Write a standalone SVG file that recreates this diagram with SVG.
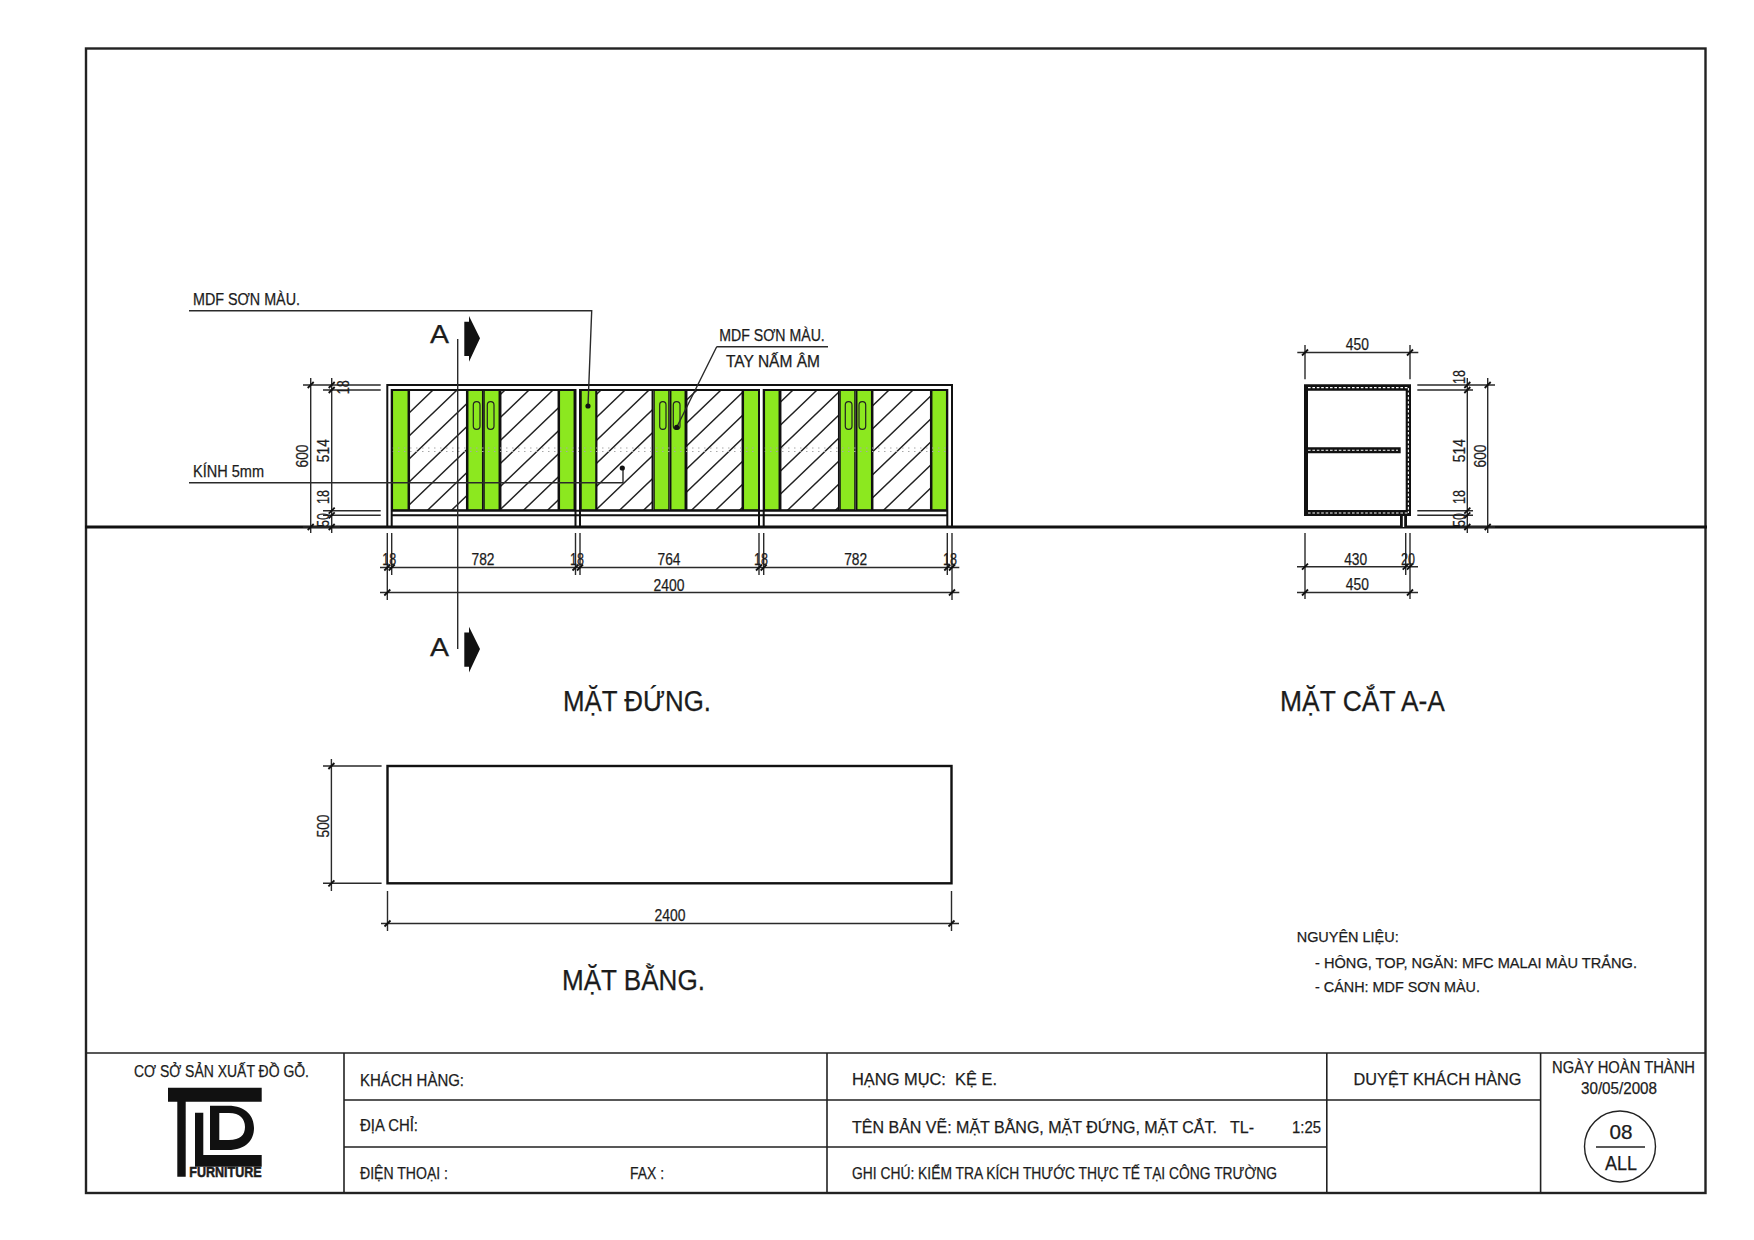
<svg xmlns="http://www.w3.org/2000/svg" width="1754" height="1240" viewBox="0 0 1754 1240">
<style>
text{font-family:"Liberation Sans",Arial,sans-serif;fill:#1c1c1c;stroke:#1c1c1c;stroke-width:.25;font-size:16px;}
.n{font-size:15.5px}
.d{font-size:16.5px}
.t{font-size:29px}
.l{fill:none;stroke:#2a2a2a;stroke-width:1.4}
.h{fill:none;stroke:#111;stroke-width:2}
.g{fill:#8ce81f;stroke:#111;stroke-width:1.5}
.gl{fill:url(#hatch);stroke:#111;stroke-width:1.5}
.hd{fill:#8ce81f;stroke:#222;stroke-width:1.2}
.dot{fill:none;stroke:#a8a8a8;stroke-width:1.2;stroke-dasharray:1.5 4.5}
.k{fill:#111}
</style>
<defs>
<pattern id="hatch" patternUnits="userSpaceOnUse" width="24" height="23"><rect width="24" height="23" fill="#fff"/><path d="M-2 24.9L26 -1.9M-2 1.9L2 -1.9M22 24.9L26 21.1" stroke="#222" stroke-width="1.5" fill="none"/></pattern>
<path id="tick" d="M-3 3L3 -3" stroke="#111" stroke-width="1.8" fill="none"/>
<path id="arrowA" d="M469 316L480 338.3L469 361.7V356H464.3V321.7H469Z" fill="#111"/>
</defs>
<rect width="1754" height="1240" fill="#fff"/>
<g id="frame">
<rect x="86" y="48.5" width="1619.5" height="1144.5" fill="none" stroke="#222" stroke-width="2.4"/>
<path d="M85 527H1707" fill="none" stroke="#111" stroke-width="2.8"/>
</g>
<g id="elevation">
<rect class="g" x="392.3" y="390" width="16" height="120"/>
<rect class="gl" x="409.3" y="390" width="57.4" height="120"/>
<rect class="g" x="467.7" y="390" width="15" height="120"/>
<rect class="g" x="484" y="390" width="15.3" height="120"/>
<rect class="gl" x="500.7" y="390" width="57.6" height="120"/>
<rect class="g" x="559.3" y="390" width="15" height="120"/>
<rect class="g" x="581" y="390" width="15" height="120"/>
<rect class="gl" x="596.7" y="390" width="55.6" height="120"/>
<rect class="g" x="654" y="390" width="15" height="120"/>
<rect class="g" x="670.7" y="390" width="14.6" height="120"/>
<rect class="gl" x="686.7" y="390" width="55.6" height="120"/>
<rect class="g" x="743.3" y="390" width="15.7" height="120"/>
<rect class="g" x="764.3" y="390" width="15" height="120"/>
<rect class="gl" x="780.7" y="390" width="58" height="120"/>
<rect class="g" x="840" y="390" width="15" height="120"/>
<rect class="g" x="856.7" y="390" width="15" height="120"/>
<rect class="gl" x="872.7" y="390" width="58" height="120"/>
<rect class="g" x="931.7" y="390" width="15" height="120"/>
<path class="dot" d="M392 448H947M392 451.5H947"/>
<path class="h" d="M387.3 527V385H952V527M391.7 527V390H575.5V527M580 527V390H759V527M763.7 527V390H947.3V527M391.7 510.7H947.3M391.7 515.3H947.3"/>
<rect class="hd" x="473.3" y="401.7" width="6.7" height="27.6" rx="3.3"/>
<rect class="hd" x="487.3" y="401.7" width="6.7" height="27.6" rx="3.3"/>
<rect class="hd" x="659.7" y="401.7" width="6.3" height="27.6" rx="3.1"/>
<rect class="hd" x="673.3" y="401.7" width="6.7" height="27.6" rx="3.3"/>
<rect class="hd" x="845.3" y="401.7" width="6.7" height="27.6" rx="3.3"/>
<rect class="hd" x="859" y="401.7" width="6.7" height="27.6" rx="3.3"/>
<text x="193" y="305" textLength="107" lengthAdjust="spacingAndGlyphs">MDF SƠN MÀU.</text>
<text x="193" y="477" textLength="71" lengthAdjust="spacingAndGlyphs">KÍNH 5mm</text>
<text x="719.3" y="340.7" textLength="105.5" lengthAdjust="spacingAndGlyphs">MDF SƠN MÀU.</text>
<text x="726" y="367" textLength="94" lengthAdjust="spacingAndGlyphs">TAY NẤM ÂM</text>
<text x="430" y="343" style="font-size:25px" textLength="19" lengthAdjust="spacingAndGlyphs">A</text>
<text x="430" y="656" style="font-size:25px" textLength="19" lengthAdjust="spacingAndGlyphs">A</text>
<use href="#arrowA"/>
<use href="#arrowA" y="310.7"/>
<path class="l" d="M457.7 339V649"/>
<text class="t" x="563" y="711" textLength="148" lengthAdjust="spacingAndGlyphs">MẶT ĐỨNG.</text>
</g>
<g id="connectors">
<path class="l" d="M189 310.7H591.7L588 406M189 482.7H623V468M716.7 346.7H828M716.7 346.7L676.7 427.3"/>
<circle class="k" cx="588" cy="406" r="2.6"/><circle class="k" cx="622.3" cy="468" r="2.6"/><circle class="k" cx="676.7" cy="427.3" r="2.6"/>
</g>
<g id="elevation-dims">
<path class="l" d="M310.7 378V533M331.7 378V533M303 385H380.7M323 390H380.7M323 510.7H380.7M323 515.3H380.7M303 527H340"/>
<path class="l" d="M380 567.5H959.3M380 592.5H959.3M387.3 533V600M391.7 533V575M575.5 533V575M580 533V575M759 533V575M763.7 533V575M947.3 533V575M952 533V600"/>
<use href="#tick" x="310.7" y="385"/><use href="#tick" x="331.7" y="385"/><use href="#tick" x="331.7" y="390"/><use href="#tick" x="331.7" y="510.7"/><use href="#tick" x="331.7" y="515.3"/><use href="#tick" x="310.7" y="527"/><use href="#tick" x="331.7" y="527"/>
<use href="#tick" x="387.3" y="567.5"/><use href="#tick" x="391.7" y="567.5"/><use href="#tick" x="575.5" y="567.5"/><use href="#tick" x="580" y="567.5"/><use href="#tick" x="759" y="567.5"/><use href="#tick" x="763.7" y="567.5"/><use href="#tick" x="947.3" y="567.5"/><use href="#tick" x="952" y="567.5"/><use href="#tick" x="387.3" y="592.5"/><use href="#tick" x="952" y="592.5"/>
<g text-anchor="middle">
<text class="d" transform="translate(308 456) rotate(-90)" textLength="23" lengthAdjust="spacingAndGlyphs">600</text>
<text class="d" transform="translate(329 450.7) rotate(-90)" textLength="23" lengthAdjust="spacingAndGlyphs">514</text>
<text class="d" transform="translate(349 387.3) rotate(-90)" textLength="14" lengthAdjust="spacingAndGlyphs">18</text>
<text class="d" transform="translate(329 497) rotate(-90)" textLength="14" lengthAdjust="spacingAndGlyphs">18</text>
<text class="d" transform="translate(329 520) rotate(-90)" textLength="14" lengthAdjust="spacingAndGlyphs">50</text>
<text class="d" x="389.3" y="565" textLength="14" lengthAdjust="spacingAndGlyphs">18</text>
<text class="d" x="483" y="565" textLength="23" lengthAdjust="spacingAndGlyphs">782</text>
<text class="d" x="577" y="565" textLength="14" lengthAdjust="spacingAndGlyphs">18</text>
<text class="d" x="669" y="565" textLength="23" lengthAdjust="spacingAndGlyphs">764</text>
<text class="d" x="761" y="565" textLength="14" lengthAdjust="spacingAndGlyphs">18</text>
<text class="d" x="855.7" y="565" textLength="23" lengthAdjust="spacingAndGlyphs">782</text>
<text class="d" x="950" y="565" textLength="14" lengthAdjust="spacingAndGlyphs">18</text>
<text class="d" x="669" y="590.5" textLength="31" lengthAdjust="spacingAndGlyphs">2400</text>
</g>
</g>
<g id="section">
<path d="M1304 390H1308V510H1304Z" fill="#111"/>
<path class="k" d="M1304 384.3H1411V390.7H1304ZM1405.7 384.3H1411V516H1405.7ZM1304 447.3H1400.7V453.3H1304ZM1304 510H1411V516H1304ZM1400 516H1407V527H1400Z"/>
<path d="M1308 387.6H1408.5M1408.4 388V513M1308 450.3H1398M1308 513H1408.5" fill="none" stroke="#fff" stroke-width="1.1" stroke-dasharray="2.6 1.8"/>
<path d="M1403.5 516V527" stroke="#fff" stroke-width="1.4"/>
<path class="l" d="M1297.3 352.5H1418.3M1305 345V379.3M1410 345V379.3M1467.3 378V533M1487.7 378V533M1417.3 385H1495M1417.3 390H1473M1417.3 510.7H1473M1417.3 515.3H1473M1460 527H1495M1297 566.7H1418M1297 592.5H1418M1305 533V599M1410 533V599M1405.7 533V575"/>
<use href="#tick" x="1305" y="352.5"/><use href="#tick" x="1410" y="352.5"/><use href="#tick" x="1467.3" y="385"/><use href="#tick" x="1487.7" y="385"/><use href="#tick" x="1467.3" y="390"/><use href="#tick" x="1467.3" y="510.7"/><use href="#tick" x="1467.3" y="515.3"/><use href="#tick" x="1467.3" y="527"/><use href="#tick" x="1487.7" y="527"/><use href="#tick" x="1305" y="566.7"/><use href="#tick" x="1405.7" y="566.7"/><use href="#tick" x="1410" y="566.7"/><use href="#tick" x="1305" y="592.5"/><use href="#tick" x="1410" y="592.5"/>
<g text-anchor="middle">
<text class="d" x="1357.3" y="350" textLength="23" lengthAdjust="spacingAndGlyphs">450</text>
<text class="d" transform="translate(1465 377) rotate(-90)" textLength="14" lengthAdjust="spacingAndGlyphs">18</text>
<text class="d" transform="translate(1465 450.7) rotate(-90)" textLength="23" lengthAdjust="spacingAndGlyphs">514</text>
<text class="d" transform="translate(1486 456) rotate(-90)" textLength="23" lengthAdjust="spacingAndGlyphs">600</text>
<text class="d" transform="translate(1465 497) rotate(-90)" textLength="14" lengthAdjust="spacingAndGlyphs">18</text>
<text class="d" transform="translate(1465 520) rotate(-90)" textLength="14" lengthAdjust="spacingAndGlyphs">50</text>
<text class="d" x="1355.7" y="564.5" textLength="23" lengthAdjust="spacingAndGlyphs">430</text>
<text class="d" x="1408" y="564.5" textLength="14" lengthAdjust="spacingAndGlyphs">20</text>
<text class="d" x="1357.3" y="590" textLength="23" lengthAdjust="spacingAndGlyphs">450</text>
</g>
<text class="t" x="1280" y="711" textLength="165" lengthAdjust="spacingAndGlyphs">MẶT CẮT A-A</text>
</g>
<g id="plan">
<rect x="387.5" y="766" width="564" height="117.3" fill="none" stroke="#111" stroke-width="2.4"/>
<path class="l" d="M331.4 759V891M323 766H381.6M323 883.3H381.6M381 923.5H959M387.5 891V931M951.5 891V931"/>
<use href="#tick" x="331.4" y="766"/><use href="#tick" x="331.4" y="883.3"/><use href="#tick" x="387.5" y="923.5"/><use href="#tick" x="951.5" y="923.5"/>
<g text-anchor="middle">
<text class="d" transform="translate(329 826) rotate(-90)" textLength="23" lengthAdjust="spacingAndGlyphs">500</text>
<text class="d" x="670" y="921" textLength="31" lengthAdjust="spacingAndGlyphs">2400</text>
</g>
<text class="t" x="562" y="990" textLength="143" lengthAdjust="spacingAndGlyphs">MẶT BẰNG.</text>
</g>
<g id="notes">
<text class="n" x="1296.7" y="942" textLength="102" lengthAdjust="spacingAndGlyphs">NGUYÊN LIỆU:</text>
<text class="n" x="1315" y="968" textLength="322" lengthAdjust="spacingAndGlyphs">- HÔNG, TOP, NGĂN: MFC MALAI MÀU TRẮNG.</text>
<text class="n" x="1315" y="992" textLength="165" lengthAdjust="spacingAndGlyphs">- CÁNH: MDF SƠN MÀU.</text>
</g>
<g id="titleblock">
<path d="M86 1053H1705.5M344 1053V1193M827 1053V1193M1326.8 1053V1193M1540.6 1053V1193M344 1100H1326.8M344 1147H1326.8M1326.8 1100H1540.6" fill="none" stroke="#222" stroke-width="1.6"/>
<g id="logo">
<path class="k" d="M168 1087.7H261.7V1101.7H185.7V1176.7H177.3V1101.7H168ZM195 1112.7H203.3V1155H261.7V1166.7H195ZM210 1105.7H228C246 1105.7 254 1116 254 1128C254 1140 246 1150 228 1150H210ZM219.3 1113V1140H229C240 1140 245 1135 245 1127C245 1119 240 1113 229 1113Z" fill-rule="evenodd"/>
<text x="189.3" y="1177" style="font-size:14px;font-weight:bold;stroke-width:.5" textLength="72.4" lengthAdjust="spacingAndGlyphs">FURNITURE</text>
</g>
<text x="134" y="1077" textLength="175" lengthAdjust="spacingAndGlyphs">CƠ SỞ SẢN XUẤT ĐỒ GỖ.</text>
<text x="360" y="1086" textLength="104" lengthAdjust="spacingAndGlyphs">KHÁCH HÀNG:</text>
<text x="360" y="1131" textLength="58" lengthAdjust="spacingAndGlyphs">ĐỊA CHỈ:</text>
<text x="360" y="1179" textLength="88" lengthAdjust="spacingAndGlyphs">ĐIỆN THOẠI :</text>
<text x="630" y="1179" textLength="34" lengthAdjust="spacingAndGlyphs">FAX :</text>
<text x="852" y="1085" style="font-size:17px" textLength="145" lengthAdjust="spacingAndGlyphs" xml:space="preserve">HẠNG MỤC:  KỆ E.</text>
<text x="852" y="1133" style="font-size:17px" textLength="402" lengthAdjust="spacingAndGlyphs" xml:space="preserve">TÊN BẢN VẼ: MẶT BẰNG, MẶT ĐỨNG, MẶT CẮT.   TL-</text>
<text x="1292" y="1133" style="font-size:17px" textLength="29" lengthAdjust="spacingAndGlyphs">1:25</text>
<text x="852" y="1179" textLength="425" lengthAdjust="spacingAndGlyphs">GHI CHÚ: KIỂM TRA KÍCH THƯỚC THỰC TẾ TẠI CÔNG TRƯỜNG</text>
<text x="1353.5" y="1085" style="font-size:17px" textLength="168" lengthAdjust="spacingAndGlyphs">DUYỆT KHÁCH HÀNG</text>
<text x="1552" y="1073" textLength="143" lengthAdjust="spacingAndGlyphs">NGÀY HOÀN THÀNH</text>
<text x="1581" y="1094" textLength="76" lengthAdjust="spacingAndGlyphs">30/05/2008</text>
<circle cx="1620" cy="1146.5" r="35.5" fill="none" stroke="#222" stroke-width="1.4"/>
<path d="M1596 1147H1645" stroke="#222" stroke-width="1.3"/>
<g text-anchor="middle">
<text x="1621" y="1139" style="font-size:20px" textLength="23" lengthAdjust="spacingAndGlyphs">08</text>
<text x="1621" y="1170" style="font-size:20px" textLength="32" lengthAdjust="spacingAndGlyphs">ALL</text>
</g>
</g>
</svg>
